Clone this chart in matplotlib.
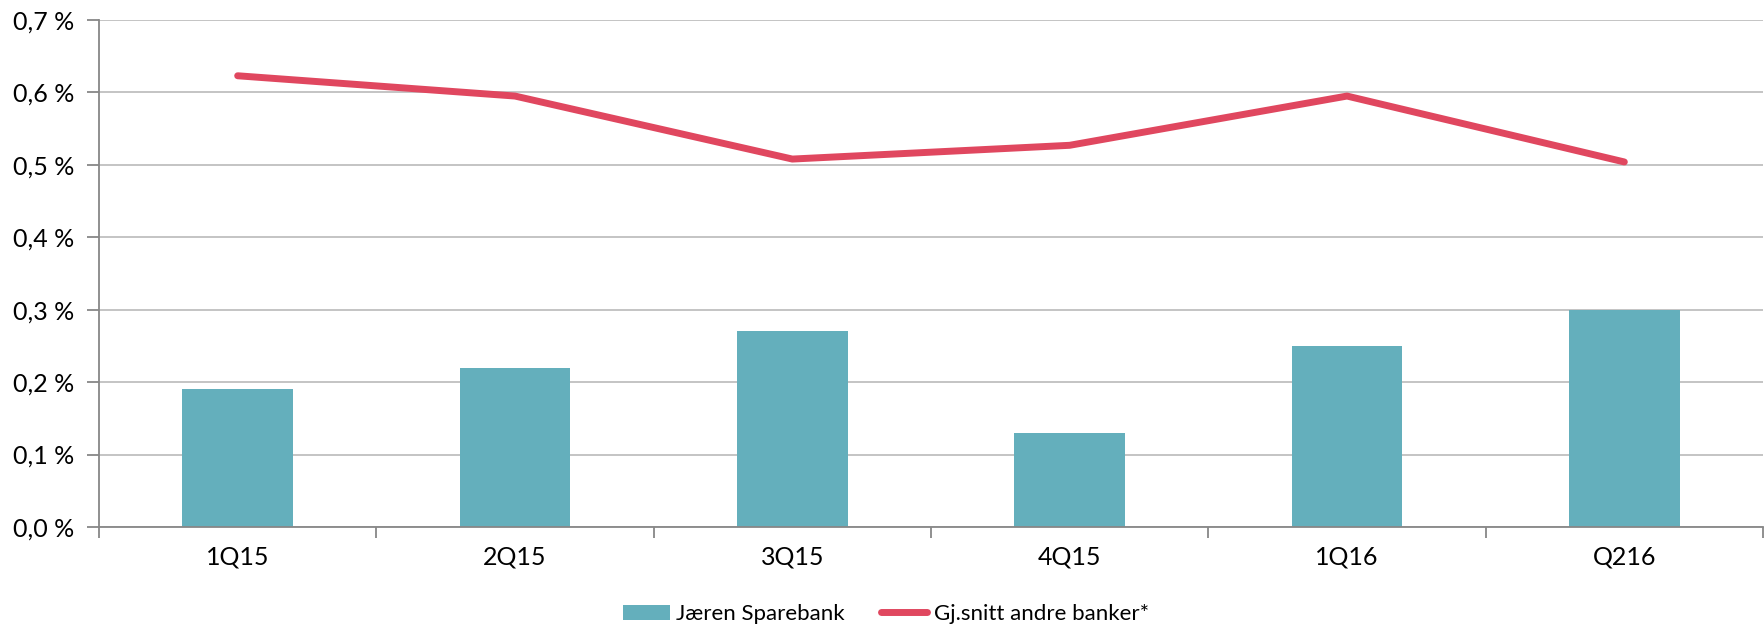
import matplotlib
matplotlib.use("Agg")
import matplotlib.pyplot as plt
from matplotlib.ticker import FuncFormatter, FixedLocator
from matplotlib.lines import Line2D
from matplotlib.patches import Patch
import numpy as np

categories = ["1Q15", "2Q15", "3Q15", "4Q15", "1Q16", "Q216"]
jaeren = [0.19, 0.22, 0.27, 0.13, 0.25, 0.30]
andre = [0.623, 0.595, 0.508, 0.527, 0.595, 0.504]

plt.rcParams['font.family'] = ['Lato', 'DejaVu Sans']

fig = plt.figure(figsize=(17.65, 6.28), dpi=100)
ax = fig.add_axes([99/1765, 1-527/628, (1763-99)/1765, (527-20)/628])

x = np.arange(len(categories))
bar_color = "#64AFBC"
line_color = "#E0475F"
ax.bar(x, jaeren, width=0.40, color=bar_color, zorder=2)
ax.plot(x, andre, color=line_color, lw=5, solid_capstyle='round', zorder=3)

ax.set_xlim(-0.5, len(categories) - 0.5)
ax.set_ylim(0, 0.7)
ax.set_yticks(np.arange(0, 0.71, 0.1))
ax.yaxis.set_major_formatter(FuncFormatter(lambda v, p: f"{v:.1f} %".replace(".", ",")))
ax.yaxis.grid(True, color="#BFBFBF", lw=1.3, zorder=0)
ax.set_axisbelow(True)

ax.set_xticks(x)
ax.set_xticklabels(categories)
ax.xaxis.set_minor_locator(FixedLocator(np.arange(-0.5, len(categories), 1.0)))
ax.tick_params(axis='x', which='major', length=0, pad=13, labelsize=18)
ax.tick_params(axis='x', which='minor', length=8, width=1.3, color="#878787", direction='out')
ax.tick_params(axis='y', length=9, width=1.3, color="#878787", labelsize=18, pad=9)

for s in ["top", "right"]:
    ax.spines[s].set_visible(False)
for s in ["left", "bottom"]:
    ax.spines[s].set_color("#878787")
    ax.spines[s].set_linewidth(1.3)

handles = [Patch(facecolor=bar_color, edgecolor='none'),
           Line2D([0], [0], color=line_color, lw=5, solid_capstyle='round')]
fig.legend(handles, ["Jæren Sparebank", "Gj.snitt andre banker*"], loc='center',
           bbox_to_anchor=(0.502, 0.022), ncol=2, frameon=False, fontsize=16,
           handlelength=2.1, handletextpad=0.3, columnspacing=1.6,
           borderpad=0, borderaxespad=0)

fig.savefig("out.png", dpi=100)
